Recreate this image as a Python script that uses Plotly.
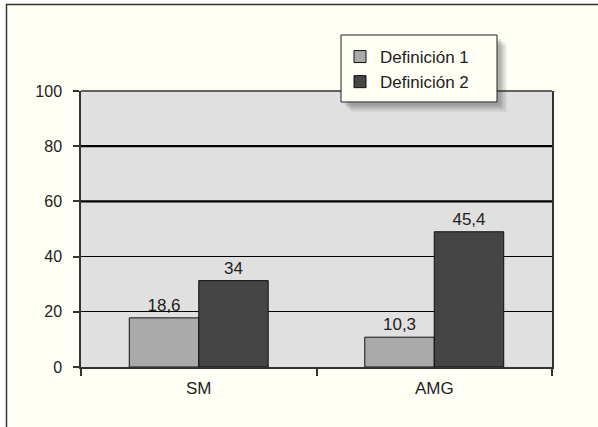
import plotly.graph_objects as go

categories = ["SM", "AMG"]
series_names = ["Definición 1", "Definición 2"]
def1_values = [17.8, 10.8]
def2_values = [31.3, 49.0]
def1_labels = ["18,6", "10,3"]
def2_labels = ["34", "45,4"]
y_ticks = [0, 20, 40, 60, 80, 100]
thick_grid = [60, 80]

W, H = 598, 427
L, R, T, B = 81, 46, 91, 60
PW, PH = W - L - R, H - T - B


def px(x):
    return (x - L) / PW


def py(y):
    return (H - B - y) / PH


FONT = "Liberation Sans, Arial, Helvetica, sans-serif"

fig = go.Figure()
fig.add_trace(go.Bar(
    x=categories, y=def1_values, name=series_names[0],
    marker=dict(color="#aaaaaa", line=dict(color="#111111", width=1)),
    text=def1_labels, textposition="outside",
    textfont=dict(size=17, color="#222222", family=FONT),
))
fig.add_trace(go.Bar(
    x=categories, y=def2_values, name=series_names[1],
    marker=dict(color="#454545", line=dict(color="#111111", width=1)),
    text=def2_labels, textposition="outside",
    textfont=dict(size=17, color="#222222", family=FONT),
))

shapes = []
# outer white strips and frame
shapes.append(dict(type="rect", xref="paper", yref="paper", x0=px(-5), x1=px(W + 5), y0=py(-5), y1=py(4),
                   fillcolor="white", line=dict(width=0), layer="below"))
shapes.append(dict(type="rect", xref="paper", yref="paper", x0=px(-5), x1=px(6), y0=py(-5), y1=py(H + 5),
                   fillcolor="white", line=dict(width=0), layer="below"))
shapes.append(dict(type="rect", xref="paper", yref="paper", x0=px(6.5), x1=px(W + 10), y0=py(4.5), y1=py(H + 10),
                   fillcolor="rgba(0,0,0,0)", line=dict(color="#333333", width=1.5), layer="below"))
# thicker gridlines
for g in thick_grid:
    shapes.append(dict(type="line", xref="paper", yref="y", x0=0, x1=1, y0=g, y1=g,
                       line=dict(color="#000000", width=2.2), layer="below"))
# legend shadow
for k, op in [(10, 0.08), (8, 0.1), (6, 0.12), (4, 0.14)]:
    shapes.append(dict(type="rect", xref="paper", yref="paper",
                       x0=px(341 + k), x1=px(497 + k), y0=py(35 + k), y1=py(102 + k),
                       fillcolor="rgba(60,60,60,%s)" % op, line=dict(width=0), layer="above"))
# legend box
shapes.append(dict(type="rect", xref="paper", yref="paper", x0=px(341), x1=px(497), y0=py(35), y1=py(102),
                   fillcolor="#fffff5", line=dict(color="#222222", width=1), layer="above"))

fig.update_layout(
    width=W, height=H,
    margin=dict(l=L, r=R, t=T, b=B, pad=0),
    paper_bgcolor="#fffff5",
    plot_bgcolor="#e0e0e0",
    barmode="group", bargap=0.41, bargroupgap=0,
    font=dict(family=FONT, size=16, color="#222222"),
    showlegend=True,
    legend=dict(x=px(340), y=py(39), xanchor="left", yanchor="top",
                bgcolor="rgba(0,0,0,0)", borderwidth=0,
                font=dict(size=17, family=FONT, color="#222222"),
                tracegroupgap=0),
    shapes=shapes,
    xaxis=dict(type="category", tickson="boundaries", ticks="outside", ticklen=7,
               tickcolor="#333333", tickwidth=1.5, showline=True, linecolor="#333333",
               linewidth=1.5, mirror=False, showgrid=False, ticklabelstandoff=5,
               tickfont=dict(size=17, family=FONT, color="#222222")),
    yaxis=dict(range=[0, 100], tickvals=y_ticks, ticks="outside", ticklen=6,
               tickcolor="#333333", tickwidth=1.5, showline=True, linecolor="#333333",
               linewidth=1.5, mirror=True, showgrid=True, gridcolor="#000000", gridwidth=1,
               zeroline=False, ticklabelstandoff=8,
               tickfont=dict(size=16, family=FONT, color="#222222")),
)
fig.add_shape(type="line", xref="paper", yref="paper", x0=0, x1=1, y0=1, y1=1,
              line=dict(color="#333333", width=1.5), layer="below")

fig.write_html("out.html", config={"displayModeBar": False},
               post_script="document.body.style.margin='0';document.body.style.overflow='hidden';")
